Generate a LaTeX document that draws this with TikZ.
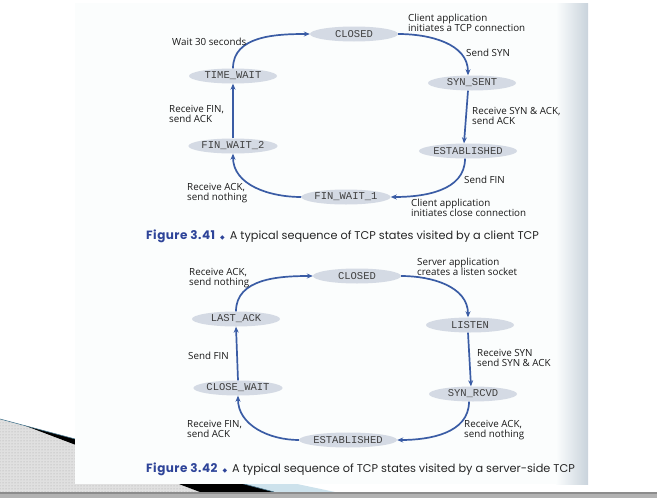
\documentclass[tikz,border=0pt]{standalone}
\usepackage{fontspec}
\setmainfont{Open Sans}
\newfontfamily\statefnt{Liberation Mono}
\newfontfamily\capfnt{Poppins}
\newfontfamily\symfnt{DejaVu Sans}
\usetikzlibrary{shapes.geometric,arrows.meta,patterns}
\definecolor{statefill}{HTML}{D4DAE4}
\definecolor{arrowblue}{HTML}{3A5CA5}
\definecolor{capblue}{HTML}{2E4499}
\definecolor{pagecol}{HTML}{FBFDFD}
\definecolor{edgecol}{HTML}{C9D3DC}
\definecolor{wedgeblue}{HTML}{CDE2EC}
\newcommand\figlabel[1]{\textcolor{capblue}{\fontsize{12}{12}\selectfont\bfseries\addfontfeature{LetterSpace=4}#1}%
  \hspace{5pt}{\symfnt\fontsize{6}{6}\selectfont\textcolor{capblue}{◆}}\hspace{5pt}}
\tikzset{
  state/.style={ellipse, fill=statefill, minimum width=88pt, minimum height=15pt, inner sep=0pt,
    font=\statefnt\fontsize{10.5}{10.5}\selectfont, text=black!75},
  lbl/.style={anchor=west, align=left, inner sep=0pt, font=\fontsize{9.8}{10}\selectfont, text=black!90},
  tarrow/.style={draw=arrowblue, line width=1.7pt, -{Stealth[length=6pt,width=5pt]}},
  figcap/.style={anchor=west, inner sep=0pt, font=\capfnt\fontsize{11.3}{12}\selectfont, text=black!85}
}
\begin{document}
\begin{tikzpicture}[x=1pt,y=1pt]
\useasboundingbox (0,0) rectangle (657,-498);
% slide decoration
\fill[black!12] (0,-419.5) -- (25,-426) -- (200,-492) -- (0,-492) -- cycle;
\fill[pattern=dots, pattern color=black!35] (0,-419.5) -- (25,-426) -- (200,-492) -- (0,-492) -- cycle;
\fill[wedgeblue] (75,-437) -- (335,-492) -- (274,-492) -- cycle;
\fill[black] (25,-425.7) -- (274,-492) -- (200,-492) -- cycle;
\draw[cyan!50!black, line width=0.6pt] (0,-419) -- (274,-492);
\fill[black!45] (0,-492) rectangle (657,-498);
\fill[black!30] (0,-494) rectangle (657,-498);
% page
\fill[pagecol] (75,-3) rectangle (588,-484);
\shade[left color=pagecol, right color=edgecol] (556,-3) rectangle (588,-484);

% client TCP
\node[state] (cl1) at (354,-34) {CLOSED};
\node[state] (tw1) at (233,-76) {TIME\_WAIT};
\node[state] (fw2) at (233,-146) {FIN\_WAIT\_2};
\node[state] (fw1) at (346,-197) {FIN\_WAIT\_1};
\node[state] (ss) at (472,-83) {SYN\_SENT};
\node[state] (es1) at (468,-151) {ESTABLISHED};

\draw[tarrow] (tw1.north) to[out=90,in=180] (cl1.west);
\draw[tarrow] (cl1.east) to[out=0,in=90] ([xshift=-4pt]ss.north);
\draw[tarrow] ([xshift=-4pt]ss.south) -- ([xshift=-4pt]es1.north);
\draw[tarrow] ([xshift=-3pt]es1.south) to[out=-90,in=0] (fw1.east);
\draw[tarrow] (fw1.west) to[out=180,in=-90] (fw2.south);
\draw[tarrow] (fw2.north) -- (tw1.south);

\node[lbl] (l1a) at (172,-42) {Wait 30 seconds};
\node[lbl] (l1b) at (169,-113.5) {Receive FIN,\\send ACK};
\node[lbl] (l1c) at (187,-193) {Receive ACK,\\send nothing};
\node[lbl] (l1d) at (408,-22.5) {Client application\\initiates a TCP connection};
\node[lbl] (l1e) at (466,-53) {Send SYN};
\node[lbl] (l1f) at (472,-115.5) {Receive SYN \& ACK,\\send ACK};
\node[lbl] (l1g) at (464,-180) {Send FIN};
\node[lbl] (l1h) at (411,-207.5) {Client application\\initiates close connection};
\node[figcap] (cap1) at (146,-236) {\figlabel{Figure 3.41}A typical sequence of TCP states visited by a client TCP};

% server TCP
\node[state] (cl2) at (357,-276) {CLOSED};
\node[state] (la) at (236,-319) {LAST\_ACK};
\node[state] (cw) at (238,-388) {CLOSE\_WAIT};
\node[state] (es2) at (348,-440) {ESTABLISHED};
\node[state] (li) at (470,-325) {LISTEN};
\node[state] (sr) at (473,-394) {SYN\_RCVD};

\draw[tarrow] (la.north) to[out=90,in=180] (cl2.west);
\draw[tarrow] (cl2.east) to[out=0,in=90] ([xshift=-2pt]li.north);
\draw[tarrow] ([xshift=-2pt]li.south) -- ([xshift=-2pt]sr.north);
\draw[tarrow] ([xshift=-4pt]sr.south) to[out=-90,in=0] (es2.east);
\draw[tarrow] (es2.west) to[out=180,in=-90] (cw.south);
\draw[tarrow] (cw.north) -- (la.south);

\node[lbl] (l2a) at (189,-278.5) {Receive ACK,\\send nothing};
\node[lbl] (l2b) at (188,-356) {Send FIN};
\node[lbl] (l2c) at (187,-428.5) {Receive FIN,\\send ACK};
\node[lbl] (l2d) at (417,-266.5) {Server application\\creates a listen socket};
\node[lbl] (l2e) at (477,-357.5) {Receive SYN\\send SYN \& ACK};
\node[lbl] (l2f) at (464,-430.5) {Receive ACK,\\send nothing};
\node[figcap] (cap2) at (146,-469) {\figlabel{Figure 3.42}A typical sequence of TCP states visited by a server-side TCP};
\end{tikzpicture}
\end{document}
